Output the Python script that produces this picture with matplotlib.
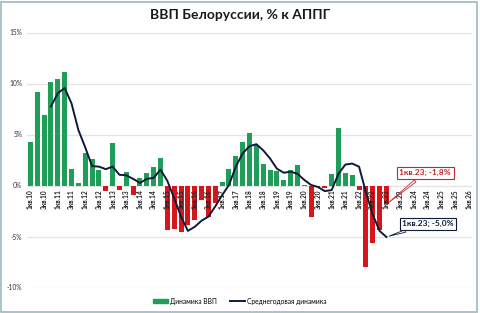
import matplotlib

matplotlib.use("Agg")
import matplotlib.pyplot as plt
from matplotlib.lines import Line2D
from matplotlib.patches import Patch, Rectangle

plt.rcParams["font.family"] = ["Lato", "DejaVu Sans"]

# квартальная динамика ВВП, % к АППГ, с 1кв.10 по 1кв.23
gdp = [
    4.3, 9.2, 7.0, 10.2, 10.5, 11.2, 1.7, 0.25, 3.25, 2.65, 1.6, -0.5, 4.2,
    -0.4, 1.4, -0.9, 0.8, 1.25, 1.9, 2.7, -4.3, -4.2, -4.5, -3.8, -3.3, -1.4,
    -3.0, -1.7, 0.4, 1.65, 2.9, 4.3, 5.2, 4.0, 2.2, 1.6, 1.5, 0.55, 1.6, 2.1,
    0.1, -3.0, -0.1, -0.2, 1.2, 5.7, 1.3, 1.05, -0.4, -7.9, -5.6, -4.3, -1.8,
]
# среднегодовая динамика, начиная с 4кв.10
avg_start = 3
avg = [
    7.8, 9.1, 9.6, 8.1, 5.5, 3.8, 1.95, 1.9, 1.65, 1.9, 1.1, 1.05, 0.7, 0.3,
    0.7, 0.8, 1.6, 0.5, -1.2, -3.0, -4.4, -4.0, -3.4, -3.0, -2.0, -0.9, 0.1,
    1.9, 3.2, 3.9, 4.1, 3.5, 2.7, 1.7, 1.3, 1.4, 1.2, 0.6, 0.1, -0.1, -0.5,
    -0.4, 1.2, 2.1, 2.2, 1.9, -0.6, -2.8, -4.4, -5.0,
]
tick_labels = [
    "1кв.10", "3кв.10", "1кв.11", "3кв.11", "1кв.12", "3кв.12", "1кв.13",
    "3кв.13", "1кв.14", "3кв.14", "1кв.15", "3кв.15", "1кв.16", "3кв.16",
    "1кв.17", "3кв.17", "1кв.18", "3кв.18", "1кв.19", "3кв.19", "1кв.20",
    "3кв.20", "1кв.21", "3кв.21", "1кв.22", "3кв.22", "1кв.23", "3кв.23",
    "1кв.24", "3кв.24", "1кв.25", "3кв.25", "1кв.26",
]
y_ticks = [-10, -5, 0, 5, 10, 15]

GREEN = "#1f9e5a"
RED = "#d7161b"
NAVY = "#0e1a3a"

fig = plt.figure(figsize=(4.8, 3.13), dpi=100)
ax = fig.add_axes([27 / 480, 1 - 288 / 313, 445 / 480, 255 / 313])

x = list(range(len(gdp)))
colors = [GREEN if v >= 0 else RED for v in gdp]
ax.bar(x, gdp, width=0.72, color=colors, zorder=2)

x_avg = list(range(avg_start, avg_start + len(avg)))
ax.plot(x_avg, avg, color=NAVY, lw=1.4, zorder=4, solid_joinstyle="round")

ax.set_xlim(-0.5, 64.5)
ax.set_ylim(-10, 15)
for t in y_ticks:
    ax.axhline(t, color="#e3e3e3", lw=0.9, zorder=0)
    ax.text(-1.2, t, f"{t}%", ha="right", va="center", fontsize=4.8,
            color="#333333")
ax.set_xticks([])
ax.set_yticks([])
for s in ax.spines.values():
    s.set_visible(False)

for i, lab in enumerate(tick_labels):
    ax.text(2 * i, -0.35, lab, rotation=90, ha="center", va="top",
            fontsize=4.7, fontweight="bold", color="#222222", zorder=5)

# подписи последнего квартала
n = len(gdp) - 1
ax.annotate("1кв.23; -1,8%", xy=(n, gdp[-1]), xytext=(n + 1.9, 1.3),
            fontsize=6, fontweight="bold", color="#c0282d", va="center",
            bbox=dict(boxstyle="square,pad=0.3", fc="white", ec="#c0282d",
                      lw=0.8),
            arrowprops=dict(arrowstyle="wedge,tail_width=0.3",
                            fc="white", ec="#c0282d", lw=0.6), zorder=6)
ax.annotate("1кв.23; -5,0%", xy=(n, avg[-1]), xytext=(n + 2.3, -3.7),
            fontsize=6, fontweight="bold", color=NAVY, va="center",
            bbox=dict(boxstyle="square,pad=0.3", fc="white", ec=NAVY,
                      lw=0.8),
            arrowprops=dict(arrowstyle="wedge,tail_width=0.3",
                            fc="white", ec=NAVY, lw=0.6), zorder=6)

fig.text(0.5, 0.952, "ВВП Белоруссии, % к АППГ", ha="center", va="center",
         fontsize=10, fontweight="bold", color="#1a1a1a")

handles = [
    Patch(color=GREEN, label="Динамика ВВП"),
    Line2D([], [], color=NAVY, lw=1.4, label="Среднегодовая динамика"),
]
fig.legend(handles=handles, loc="center", bbox_to_anchor=(0.5, 0.038),
           ncol=2, frameon=False, fontsize=4.8, handlelength=2.2,
           handleheight=0.6, columnspacing=2.0, handletextpad=0.3)

fig.patches.append(Rectangle((0.002, 0.004), 0.992, 0.99,
                             transform=fig.transFigure, fill=False,
                             ec="#9bb8c0", lw=1.2))

fig.savefig("out.png", dpi=100)
